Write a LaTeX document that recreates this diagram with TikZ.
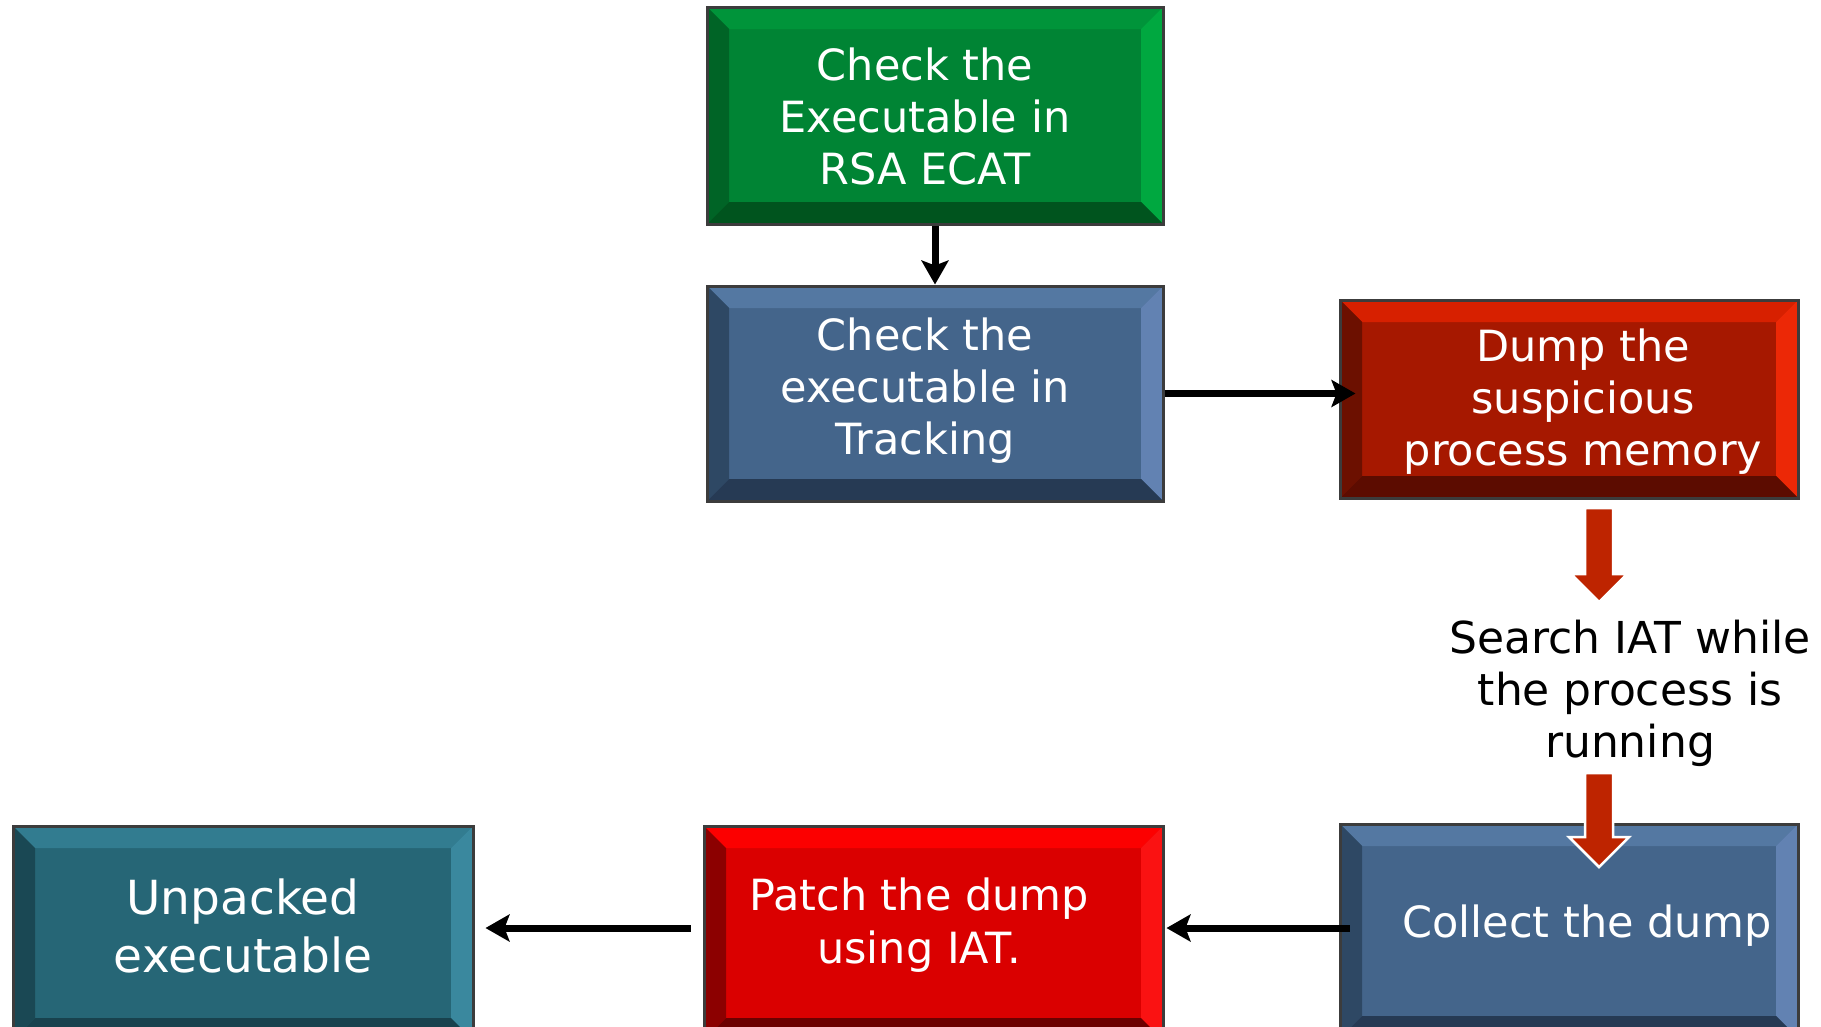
\documentclass[tikz,border=0pt]{standalone}
\usepackage{fontspec}
\setmainfont{DejaVu Sans}
\usetikzlibrary{arrows.meta,calc}
\definecolor{boxborder}{RGB}{60,60,60}
\definecolor{gface}{RGB}{0,132,52}
\definecolor{gtop}{RGB}{0,148,58}
\definecolor{gleft}{RGB}{0,100,38}
\definecolor{gright}{RGB}{0,168,64}
\definecolor{gbot}{RGB}{0,84,30}
\definecolor{bface}{RGB}{68,101,139}
\definecolor{btop}{RGB}{84,120,162}
\definecolor{bleft}{RGB}{46,72,100}
\definecolor{bright}{RGB}{98,130,178}
\definecolor{bbot}{RGB}{38,58,84}
\definecolor{dface}{RGB}{166,24,0}
\definecolor{dtop}{RGB}{215,32,0}
\definecolor{dleft}{RGB}{108,16,0}
\definecolor{dright}{RGB}{236,40,6}
\definecolor{dbot}{RGB}{92,12,0}
\definecolor{rface}{RGB}{218,0,0}
\definecolor{rtop}{RGB}{252,0,0}
\definecolor{rleft}{RGB}{140,0,0}
\definecolor{rright}{RGB}{250,18,18}
\definecolor{rbot}{RGB}{108,0,0}
\definecolor{tface}{RGB}{38,102,118}
\definecolor{ttop}{RGB}{50,124,144}
\definecolor{tleft}{RGB}{26,72,84}
\definecolor{tright}{RGB}{58,136,158}
\definecolor{tbot}{RGB}{24,66,78}
\definecolor{arrowred}{RGB}{190,36,0}
\tikzset{
  bevbox/.style n args={5}{draw=boxborder, line width=3pt, fill=#1, inner sep=0pt,
    path picture={
      \path (path picture bounding box.north west) coordinate (bNW)
            (path picture bounding box.north east) coordinate (bNE)
            (path picture bounding box.south west) coordinate (bSW)
            (path picture bounding box.south east) coordinate (bSE);
      \path ([xshift=22pt,yshift=-22pt]bNW) coordinate (iNW)
            ([xshift=-22pt,yshift=-22pt]bNE) coordinate (iNE)
            ([xshift=22pt,yshift=22pt]bSW) coordinate (iSW)
            ([xshift=-22pt,yshift=22pt]bSE) coordinate (iSE);
      \fill[#2] (bNW)--(bNE)--(iNE)--(iNW)--cycle;
      \fill[#3] (bNW)--(iNW)--(iSW)--(bSW)--cycle;
      \fill[#4] (bNE)--(bSE)--(iSE)--(iNE)--cycle;
      \fill[#5] (bSW)--(iSW)--(iSE)--(bSE)--cycle;
    }},
  boxtext/.style={text=white, align=center, inner sep=0pt, font=\fontsize{43}{52}\selectfont},
  conn/.style={line width=7pt, -{Stealth[length=24pt,width=27pt,inset=5pt]}},
  blockarrow/.style={fill=arrowred, draw=white, line width=2.5pt, line join=miter},
}
\begin{document}
\begin{tikzpicture}[x=1pt,y=-1pt]
\useasboundingbox (0,0) rectangle (1821,1026);
\clip (0,0) rectangle (1821,1026);

% boxes
\node[bevbox={gface}{gtop}{gleft}{gright}{gbot}, minimum width=456pt, minimum height=217pt] (check1) at (935,115.5) {};
\node[bevbox={bface}{btop}{bleft}{bright}{bbot}, minimum width=456pt, minimum height=215pt] (check2) at (935,393.5) {};
\node[bevbox={dface}{dtop}{dleft}{dright}{dbot}, minimum width=458pt, minimum height=198pt] (dump) at (1569,399) {};
\node[bevbox={bface}{btop}{bleft}{bright}{bbot}, minimum width=458pt, minimum height=214pt] (collect) at (1569,931) {};
\node[bevbox={rface}{rtop}{rleft}{rright}{rbot}, minimum width=459pt, minimum height=214pt] (patch) at (933.5,933) {};
\node[bevbox={tface}{ttop}{tleft}{tright}{tbot}, minimum width=460pt, minimum height=214pt] (unpacked) at (243,933) {};

% texts
\node[boxtext] (check1t) at (925,116) {Check the\\Executable in\\RSA ECAT};
\node[boxtext] (check2t) at (925,391) {Check the\\executable in\\Tracking};
\node[boxtext] (dumpt) at (1583,402) {Dump the\\suspicious\\process memory};
\node[boxtext] (collectt) at (1587,926) {Collect the dump};
\node[boxtext, font=\fontsize{43}{53}\selectfont] (patcht) at (919,925) {Patch the dump\\using IAT.};
\node[boxtext, font=\fontsize{47}{58}\selectfont] (unpackedt) at (243,926) {Unpacked\\executable};
\node[align=center, inner sep=0pt, text=black, font=\fontsize{44}{52}\selectfont] (search) at (1630,693) {Search IAT while\\the process is\\running};

% black connectors
\coordinate (cstart) at ([xshift=11pt,yshift=3pt]collect.west);
\coordinate (pstart) at ([xshift=-12pt,yshift=5pt]patch.west);
\draw[conn] (check1.south) -- (check2.north);
\draw[conn] (check2.east) -- ([xshift=17pt]check2.east -| dump.west);
\draw[conn] (cstart) -- ([xshift=2pt]cstart -| patch.east);
\draw[conn] (pstart) -- ([xshift=11pt]pstart -| unpacked.east);

% red block arrows
\coordinate (a1s) at (1599,508);
\coordinate (a1e) at (1599,602);
\coordinate (a2s) at (1599,773);
\coordinate (a2e) at (1599,867);
\path[blockarrow] ($(a1s)+(-14,0)$) -- ($(a1s)+(14,0)$) -- ($(a1e)+(14,-28)$) -- ($(a1e)+(28,-28)$) -- (a1e) -- ($(a1e)+(-28,-28)$) -- ($(a1e)+(-14,-28)$) -- cycle;
\path[blockarrow] ($(a2s)+(-14,0)$) -- ($(a2s)+(14,0)$) -- ($(a2e)+(14,-30)$) -- ($(a2e)+(30,-30)$) -- (a2e) -- ($(a2e)+(-30,-30)$) -- ($(a2e)+(-14,-30)$) -- cycle;
\end{tikzpicture}
\end{document}
